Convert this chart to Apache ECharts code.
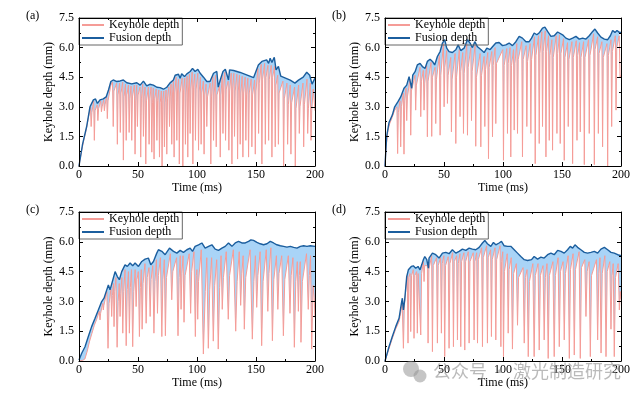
<!DOCTYPE html>
<html><head><meta charset="utf-8">
<script src="https://cdn.jsdelivr.net/npm/echarts@6/dist/echarts.min.js"></script>
<style>html,body{margin:0;padding:0;background:#fff}#c{width:642px;height:399px}</style>
</head><body><div id="c"></div>
<script>
// ---------- data ----------
const panelLabels = ['(a)', '(b)', '(c)', '(d)'];
const seriesNames = ['Keyhole depth', 'Fusion depth'];
const xTickValues = [0, 50, 100, 150, 200];
const yTickValues = [0.0, 1.5, 3.0, 4.5, 6.0, 7.5];

// (a)
const aFusionT = [0,3,6.5,9.3,12.2,14,15.6,17.8,20.6,23,25,27,29,32,34.8,37.6,40.5,44.7,49,51.8,54.6,57.4,60,63,66,68.7,71.6,74.4,75.8,77,80,81.5,84.3,85.7,87,89.4,91.4,94.2,96.2,98.4,100.7,102.7,105.5,108.3,111,114,116.8,118,119.7,122,124,125.3,126.7,127.6,131,136.6,142,148,149.4,152,155,159,160.7,162,163.5,165.5,167,169,171,175,179,183,186,190,193,195.5,197.5,200];
const aFusionV = [0,1.1,2.0,3.0,3.35,3.4,3.17,3.35,3.4,3.5,3.85,4.28,4.36,4.28,4.31,4.36,4.22,4.16,4.22,4.1,4.3,4.06,4.14,4.1,3.99,3.97,3.89,3.99,4.06,4.2,4.36,4.6,4.65,4.45,4.67,4.53,4.67,4.79,4.95,4.79,4.9,4.7,4.5,4.28,4.28,4.7,4.79,4.0,4.36,4.79,4.9,4.85,4.36,4.87,4.84,4.74,4.62,4.48,4.45,5.12,5.3,5.38,5.2,5.46,5.25,5.51,4.87,5.05,4.55,4.45,4.35,4.2,4.35,4.5,4.75,4.6,4.15,4.45];
const aKeyT = [0,2,4,6,8,9.7,10.3,10.9,12.4,13,13.6,15.4,16,16.6,18.4,19,19.6,20.9,21.5,22.1,23.4,24,24.6,27,28.4,29,29.6,31.9,32.5,33.1,34.4,35,35.6,37,37.6,38.2,39.4,40,40.6,41.9,42.5,43.1,44.1,44.7,45.3,46.9,47.5,48.1,48.9,49.5,50.1,51.7,52.3,52.9,54,54.6,55.2,56,56.6,57.2,58.8,59.4,60,61.1,61.7,62.3,63,63.6,64.2,65.4,66,66.6,67.6,68.2,68.8,69.8,70.4,71,71.8,72.4,73,73.8,74.4,75,76.1,76.7,77.3,78,78.6,79.2,80,80.6,81.2,82.3,82.9,83.5,84.4,85,85.6,87.4,88,88.6,89.6,90.2,90.8,91.6,92.2,92.8,93.6,94.2,94.8,95.9,96.5,97.1,98.1,98.7,99.3,100.7,101.3,101.9,102.9,103.5,104.1,105.4,106,106.6,107.7,108.3,108.9,111.1,111.7,112.3,113.4,114,114.6,115.7,116.3,116.9,119.1,119.7,120.3,121.4,122,122.6,123.6,124.2,124.8,126.4,127,127.6,129,129.6,130.2,131.2,131.8,132.4,133.8,134.4,135,136,136.6,137.2,138.3,138.9,139.5,140.8,141.4,142,143.1,143.7,144.3,145.9,146.5,147.1,148.8,149.4,150,151.6,152.2,152.8,154.4,155,155.6,157.3,157.9,158.5,160.1,160.7,161.3,162.9,163.5,164.1,165.7,166.3,166.9,168.4,169,169.6,172.8,173.4,174,176.2,176.8,177.4,179,179.6,180.2,182.7,183.3,183.9,186.1,186.7,187.3,189.8,190.4,191,193.2,193.8,194.4,196,196.6,197.2,198.5,200];
const aKeyV = [0,0.7,1.3,1.8,2.45,3.0,2.0,2.7,3.3,1.3,2.8,3.1,2.3,2.9,3.3,2.75,3.0,3.35,2.8,3.1,3.55,2.4,3.3,4.1,4.25,2.0,3.8,4.2,1.1,3.6,4.2,1.7,3.7,4.25,0.3,3.5,4.15,1.3,3.6,4.1,1.7,3.4,4.05,1.3,3.5,4.1,0.6,3.3,4.1,2.0,3.6,4.0,0.45,3.4,4.15,1.5,3.5,4.0,0.1,3.3,4.0,1.1,3.4,4.0,0.7,3.2,3.95,0.35,3.4,3.9,1.3,3.3,3.85,0.45,3.2,3.8,0.0,3.3,3.8,0.97,3.2,3.85,0.6,3.4,4.0,2.0,3.5,4.15,1.1,3.6,4.3,0.45,3.7,4.5,1.3,3.8,4.4,0.1,3.7,4.45,0.0,3.8,4.45,1.1,3.7,4.55,0.45,3.9,4.65,1.65,3.9,4.75,0.1,4.0,4.65,1.3,3.9,4.7,0.8,3.8,4.5,1.1,3.7,4.3,0.6,3.6,4.15,2.0,3.5,4.2,0.1,3.5,4.55,1.3,3.7,4.6,0.97,3.6,4.05,0.45,3.6,4.6,1.65,3.9,4.75,1.3,3.9,4.3,0.8,3.8,4.7,0.1,3.9,4.7,1.5,3.8,4.65,0.35,3.8,4.6,1.1,3.7,4.55,0.45,3.7,4.5,1.3,3.6,4.45,0.45,3.7,4.4,0.97,3.6,4.35,0.6,3.8,4.95,1.65,4.2,5.15,0.1,4.4,5.2,1.1,4.5,5.1,1.3,4.4,5.1,0.45,4.5,5.05,0.97,4.1,4.6,1.1,3.7,4.3,0.0,3.4,4.2,1.1,3.1,4.1,0.6,3.2,4.0,0.0,2.9,4.1,1.65,3.0,4.2,0.97,3.1,4.4,1.65,2.9,4.2,1.3,2.8,3.9,2.8];

// (b)
const bFusionT = [0,1.4,3.4,6.2,8.2,11,13.3,16.1,18.4,20.4,21.8,22.6,23.5,25.5,27.4,29.7,31.7,34,35.9,38.2,40.2,42.1,44.4,46.7,48.7,50.6,52.3,54.3,57.1,60,62,64.2,67,69.9,72.1,74.1,76.1,78.4,81.2,84,86.3,89.1,91.1,93.9,96.7,99.6,102.4,105.2,108,110.9,113.7,116.5,119.4,122.2,124.2,126.4,128.7,131,133.5,135.5,137.8,140.6,143.4,146.3,147.7,150.5,153.3,156.2,159,161.8,164.6,167.5,170.3,173.1,176,177.9,180.2,183,185.9,188.7,191,192.9,194.9,196.6,198.6,200];
const bFusionV = [0,1.5,2.2,2.58,3.0,3.26,3.5,3.94,4.1,4.53,4.6,3.94,4.6,4.78,5.12,5.2,5.04,4.95,5.3,5.41,5.3,5.12,5.55,5.8,6.23,6.4,5.97,5.8,5.75,5.89,6.14,5.85,5.97,6.4,6.23,6.0,6.3,6.04,5.9,5.75,5.97,5.9,6.04,6.23,6.26,6.1,6.14,6.23,6.1,6.3,6.57,6.48,6.3,6.3,6.48,6.74,6.65,6.77,6.99,7.04,6.82,6.57,6.6,6.79,6.87,6.65,6.48,6.4,6.48,6.57,6.43,6.48,6.43,6.6,6.82,6.94,6.74,6.53,6.43,6.4,6.6,6.87,6.77,6.87,6.77,6.77];
const bKeyT = [0,1,2.5,4,6,8,10.1,10.7,11.3,12.7,13.3,13.9,15.5,16.1,16.7,17.8,18.4,19,21.2,21.8,22.4,25.4,26,26.6,29.7,30.3,30.9,32.5,33.1,33.7,35.3,35.9,36.5,39,39.6,40.2,42.4,43,43.6,46.1,46.7,47.3,49.5,50.1,50.7,52.3,52.9,53.5,55.7,56.3,56.9,59.4,60,60.6,63,63.6,64.2,65.9,66.5,67.1,69.3,69.9,70.5,72.7,73.3,73.9,76.3,76.9,77.5,80.6,81.2,81.8,84,84.6,85.2,87.1,87.7,88.3,90.5,91.1,91.7,93.3,93.9,94.5,99.8,100.4,101,103.2,103.8,104.4,106,106.6,107.2,108.9,109.5,110.1,111.7,112.3,112.9,115.9,116.5,117.1,119.6,120.2,120.8,123,123.6,124.2,126.7,127.3,127.9,130.1,130.7,131.3,132.9,133.5,134.1,135.8,136.4,137,138.6,139.2,139.8,141.4,142,142.6,145.1,145.7,146.3,147.9,148.5,149.1,151.3,151.9,152.5,154.7,155.3,155.9,158.4,159,159.6,162.1,162.7,163.3,164.9,165.5,166.1,168.3,168.9,169.5,172.5,173.1,173.7,176.8,177.4,178,180.2,180.8,181.4,183.8,184.4,185,188.1,188.7,189.3,191.5,192.1,192.7,195.2,195.8,196.4,198.5,199.2,200];
const bKeyV = [0,1.0,1.8,2.15,2.45,2.8,3.0,0.63,2.7,3.3,0.97,3.0,3.7,0.6,3.3,3.95,2.3,3.5,4.4,1.56,3.8,4.6,2.83,4.1,5.0,2.5,4.3,4.85,2.83,4.2,5.1,1.48,4.3,5.25,1.5,4.5,5.0,2.15,4.4,5.6,1.56,4.6,6.2,3.0,5.0,5.85,3.17,4.6,5.5,1.73,4.4,5.7,1.14,4.5,5.9,2.5,4.8,5.75,1.65,4.7,6.2,1.56,5.0,6.0,2.3,4.8,6.1,1.0,4.5,5.7,0.97,4.6,5.55,2.0,4.9,5.75,0.37,5.0,5.8,1.48,5.1,6.0,2.15,5.2,5.9,0.29,5.1,5.95,1.65,5.2,6.0,0.46,5.1,5.9,1.82,5.2,6.2,1.65,5.4,6.3,0.46,5.4,6.1,2.0,5.3,6.2,1.65,5.4,6.55,0.12,5.6,6.6,1.14,5.7,6.8,2.0,5.8,6.85,0.46,5.8,6.6,1.3,5.6,6.4,0.8,5.5,6.6,1.65,5.7,6.65,1.14,5.7,6.45,0.29,5.5,6.25,2.0,5.4,6.3,0.12,5.5,6.35,1.3,5.6,6.25,1.73,5.5,6.3,0.07,5.5,6.4,1.65,5.6,6.7,0.07,5.9,6.55,1.65,5.7,6.3,0.97,5.5,6.2,0.0,5.6,6.4,2.0,5.8,6.6,2.83,6.0,6.6,4.5,4.6];

// (c)
const cFusionT = [0,2.3,5.1,7.9,10.7,13.6,16.4,19.2,21.2,23.5,24.9,26.3,28.3,30.6,32.5,34.2,36.2,39,41,43.3,45.5,47.5,50.4,53.2,56,58.8,60.8,63.1,65.9,67.3,70.2,73,76.7,80.1,82.9,85.7,88.5,91.4,94.2,96.2,98.4,101.3,104.1,106.9,109.8,112.6,115.4,118.2,121.1,123.9,126.7,129.6,132.4,135.2,138,140.9,143.7,145.7,147.9,150.8,153.6,156.4,159.3,162.1,164.9,167.7,170.6,173.4,176.2,179.1,181.9,184.7,187.6,190.4,193.2,196,200];
const cFusionV = [0.05,0.39,0.72,1.23,1.73,2.15,2.57,2.99,3.16,3.58,3.83,3.58,4.0,4.5,4.25,4.09,4.5,4.84,4.76,4.93,4.79,4.93,4.76,5.01,5.13,5.18,4.84,5.01,5.43,5.6,5.52,5.35,5.68,5.52,5.43,5.57,5.47,5.6,5.68,5.52,5.77,5.85,5.94,5.68,5.77,5.85,5.63,5.57,5.68,5.77,5.94,5.77,5.94,6.02,5.94,5.94,6.02,6.1,6.07,5.97,5.9,5.85,5.9,6.02,5.94,5.85,5.8,5.77,5.73,5.77,5.72,5.68,5.77,5.8,5.77,5.8,5.77];
const cKeyT = [0,3,5,7,9,11,13,15,17.2,17.8,18.3,20.1,20.6,21.1,23.6,24.6,25.5,27,27.7,28.3,29.2,29.7,30.3,31.3,32.3,33.2,34.1,34.8,35.4,36.3,37.1,37.9,39,40,40.9,41.9,42.7,43.5,44.5,45.5,46.4,47.6,48.4,49.1,50.3,51.2,52,52.8,53.5,54.3,55.9,56.9,57.8,59.3,60.3,61.1,62.5,63.5,64.4,65.6,66.5,67.3,69,70.2,71.1,72.3,73.2,74.1,77.4,78.6,79.5,82.7,83.9,84.9,85.8,86.5,87.2,88.2,89,89.9,93.4,94.6,95.5,97.4,98.6,99.4,99.9,100.6,101.3,103.6,105.4,107,108.3,109.6,110.8,112.4,113.8,115,116.7,118,119.2,120.4,121.4,122.4,124.8,126.5,127.6,130.8,132.8,134,135.8,137,138,139.1,140.1,141.3,145,146.9,148.2,149.5,150.6,151.6,153.5,154.8,156,158.7,160,161,162.6,163.9,165.1,167.3,168.5,169.5,171.8,173.2,174.4,177.4,178.8,179.8,181.3,182.5,183.7,185,185.9,186.7,187.5,188.1,189.3,192.8,194.3,195.2,196.2,197.2,198.4,199.3,200];
const cKeyV = [0,0.03,0.1,0.5,1.0,1.4,1.8,2.1,2.5,2.07,2.4,2.9,2.57,2.8,3.5,0.64,2.9,3.6,2.24,3.3,3.9,1.73,3.5,4.2,0.69,3.0,3.9,2.24,3.4,4.2,1.4,3.5,4.6,0.77,3.6,4.5,1.4,3.7,4.6,0.72,3.5,4.6,2.74,4.1,4.5,1.23,3.7,4.6,1.6,3.9,4.9,1.9,4.2,4.7,2.24,4.1,4.8,1.4,4.0,5.1,2.4,4.3,5.2,1.23,4.1,5.1,1.27,4.2,5.4,3.08,4.5,5.2,1.27,4.2,5.3,2.6,4.4,5.3,1.95,4.3,5.4,2.4,4.5,5.5,1.23,4.3,4.6,2.1,4.0,5.6,0.35,3.5,5.2,0.64,3.6,5.2,1.0,3.8,5.1,0.6,3.7,5.3,2.6,4.2,5.5,2.1,4.3,5.6,1.5,4.0,5.5,2.8,4.4,5.3,1.6,4.2,5.6,1.1,4.0,5.3,2.7,4.3,5.5,0.77,4.0,5.6,2.5,4.4,5.7,1.02,4.1,5.3,2.6,4.4,5.3,1.27,4.1,5.3,2.4,4.3,5.2,0.69,4.0,5.0,2.5,4.3,5.0,0.94,4.0,5.4,2.6,4.3,5.3,0.6,3.8,3.2,2.2];

// (d)
const dFusionT = [0,3.4,6.2,9.1,11.9,13.9,14.7,15.6,16.7,18.4,19.8,21.2,22.3,24,26,28,29.7,31.1,32.5,33.7,35.4,36.8,37.3,40.2,43,45.8,48.7,51.5,54.3,57.1,60,62.8,65.6,68.5,71.3,74.1,76.9,79.8,82.6,84.6,86.8,89.7,91.9,93.9,96.7,98.7,101,103.8,106.6,109.5,112.3,115.1,118,120.8,124.2,126.4,129.3,132.1,134.9,137.8,140.6,143.4,146.3,149.1,151.9,154.7,157,159,161,163.2,166,168.9,171.7,174.5,177.4,180.2,183,185.9,188.7,191.5,194.3,197.2,200];
const dFusionV = [0,0.72,1.23,1.73,2.15,2.9,3.16,2.57,3.08,4.25,4.59,4.5,4.76,4.79,4.67,4.76,4.59,4.84,5.1,5.26,5.1,4.67,5.18,5.43,5.35,5.18,5.43,5.47,5.4,5.6,5.43,5.52,5.63,5.57,5.68,5.63,5.6,5.72,5.94,6.07,5.9,5.77,5.97,5.85,5.94,6.02,5.8,5.77,5.77,5.6,5.43,5.26,5.1,5.06,5.1,5.26,5.13,5.23,5.18,5.35,5.43,5.35,5.57,5.52,5.43,5.6,5.77,5.68,5.85,5.72,5.6,5.47,5.43,5.47,5.52,5.43,5.63,5.72,5.6,5.47,5.43,5.35,5.3];
const dKeyT = [0,3,6,9,12,13.5,14.5,14.8,15.6,16.4,17.5,18.4,18.9,19.5,20.2,21.2,21.8,22.5,24,24.6,25.3,26.8,27.4,28.1,29.7,30.3,31,32.6,33.1,33.6,35.9,36.5,37.2,39.5,40.2,40.9,43.7,44.4,45.1,47.1,47.8,48.5,49.9,50.6,51.3,53.6,54.3,55,57.3,58,58.7,60.7,61.4,62.1,63.5,64.2,64.9,66.9,67.6,68.3,70.6,71.3,72,74.8,75.5,76.2,77.7,78.4,79.1,81.9,82.6,83.3,86.1,86.8,87.5,89.5,90.2,90.9,93.2,93.9,94.6,97.5,98.2,98.8,99.8,100.4,101.2,103.6,104.4,105.2,107,108,109,111.3,112.3,113.2,117,118,119,120.4,121.4,122.4,125.3,126.4,127.4,129.7,130.7,131.7,133.9,134.9,135.9,137.3,138.3,139.3,142.3,143.4,144.4,146.7,147.7,148.7,150.9,151.9,152.9,155.2,156.2,157.2,159.4,160.4,161.4,164.5,165.5,166.5,169.3,170.3,171.3,173,174,175,179.2,180.2,181.2,182.2,183.1,184.1,186.3,187.3,188.3,190.5,191.5,192.4,193.4,194.3,195.3,197.6,198.6,199.4,200];
const dKeyV = [0,0.55,1.1,1.6,2.0,2.5,3.0,3.0,0.64,2.8,3.5,4.1,4.3,0.9,4.2,4.4,1.48,4.3,4.6,1.14,4.3,4.5,1.4,4.4,4.4,1.31,4.4,5.0,4.0,4.8,4.8,0.9,4.6,5.3,0.47,4.8,5.2,0.9,4.8,5.2,1.4,4.9,5.3,0.22,4.8,5.25,0.64,4.9,5.45,0.72,5.0,5.3,1.06,4.9,5.4,0.72,5.0,5.45,0.55,5.0,5.5,0.9,5.0,5.45,1.06,5.0,5.45,0.9,5.1,5.7,0.72,5.2,5.8,0.9,5.2,5.6,1.23,5.1,5.7,1.06,5.1,5.8,0.72,5.0,5.5,0.22,4.5,5.4,1.4,4.6,5.2,0.6,4.4,4.9,1.8,4.2,4.7,0.9,4.2,4.6,0.22,4.0,4.9,0.22,4.3,4.9,0.55,4.3,4.8,1.06,4.2,4.9,0.13,4.3,5.0,0.22,4.3,5.2,0.72,4.5,5.0,1.06,4.4,5.3,0.13,4.6,5.4,0.3,4.6,5.5,0.13,4.7,5.1,2.24,4.5,5.0,0.22,4.3,5.1,1.06,4.4,5.2,0.4,4.4,5.3,0.22,4.5,5.0,1.6,4.3,4.9,0.22,4.2,4.9,2.57,3.5,3.1];

// ---------- styling / layout ----------
const FONT = "'Liberation Serif','Times New Roman',serif";
const PINK = '#F59C97';
const BLUE = '#1B5E9E';
const FILL = '#A9D4F7';
const grids = [
  {left: 79, top: 18, width: 236, height: 148},
  {left: 385, top: 18, width: 236, height: 148},
  {left: 79, top: 212, width: 236, height: 149},
  {left: 385, top: 212, width: 236, height: 149}
];
const labelPos = [[26, 10], [332, 10], [26, 204], [332, 204]];
const panelData = [
  [aFusionT, aFusionV, aKeyT, aKeyV],
  [bFusionT, bFusionV, bKeyT, bKeyV],
  [cFusionT, cFusionV, cKeyT, cKeyV],
  [dFusionT, dFusionV, dKeyT, dKeyV]
];

function pairs(t, v, tag) {
  if (t.length !== v.length) throw new Error('length mismatch ' + tag + ': ' + t.length + ' vs ' + v.length);
  return t.map((x, i) => [x, v[i]]);
}

const txt = {color: '#000', fontFamily: FONT, fontSize: 12};
const xAxes = [], yAxes = [], series = [], legends = [], titles = [];
grids.forEach((g, i) => {
  const tick = {show: true, inside: true, length: 4, lineStyle: {color: '#000', width: 1}};
  const minor = {show: true, splitNumber: 2, length: 2, lineStyle: {color: '#000', width: 1}};
  const line = {show: true, onZero: false, lineStyle: {color: '#000', width: 1}};
  xAxes.push({
    type: 'value', gridIndex: i, position: 'bottom', min: xTickValues[0], max: xTickValues[xTickValues.length - 1],
    interval: xTickValues[1] - xTickValues[0], z: 10,
    axisLine: line, axisTick: tick, minorTick: minor, splitLine: {show: false},
    axisLabel: Object.assign({margin: 3}, txt),
    name: 'Time (ms)', nameLocation: 'middle', nameGap: 16, nameTextStyle: txt
  });
  xAxes.push({
    type: 'value', gridIndex: i, position: 'top', min: xTickValues[0], max: xTickValues[xTickValues.length - 1],
    interval: xTickValues[1] - xTickValues[0], z: 10,
    axisLine: line, axisTick: tick, minorTick: minor, splitLine: {show: false}, axisLabel: {show: false}
  });
  yAxes.push({
    type: 'value', gridIndex: i, position: 'left', min: yTickValues[0], max: yTickValues[yTickValues.length - 1],
    interval: yTickValues[1] - yTickValues[0], z: 10,
    axisLine: line, axisTick: tick, minorTick: minor, splitLine: {show: false},
    axisLabel: Object.assign({margin: 5, formatter: v => v.toFixed(1)}, txt),
    name: 'Keyhole depth (mm)', nameLocation: 'middle', nameGap: 22, nameTextStyle: txt
  });
  yAxes.push({
    type: 'value', gridIndex: i, position: 'right', min: yTickValues[0], max: yTickValues[yTickValues.length - 1],
    interval: yTickValues[1] - yTickValues[0], z: 10,
    axisLine: line, axisTick: tick, minorTick: minor, splitLine: {show: false}, axisLabel: {show: false}
  });
  const [fT, fV, kT, kV] = panelData[i];
  const fData = pairs(fT, fV, 'fusion ' + i);
  const kData = pairs(kT, kV, 'keyhole ' + i);
  series.push({
    type: 'line', name: 'fusion-fill-' + i, xAxisIndex: 2 * i, yAxisIndex: 2 * i, data: fData,
    symbol: 'none', silent: true, z: 1,
    lineStyle: {width: 0, opacity: 0}, areaStyle: {color: FILL, opacity: 1}
  });
  series.push({
    type: 'line', name: seriesNames[0], xAxisIndex: 2 * i, yAxisIndex: 2 * i, data: kData,
    symbol: 'none', z: 2, itemStyle: {color: PINK},
    lineStyle: {width: 1, color: PINK}, areaStyle: {color: '#ffffff', opacity: 1}
  });
  series.push({
    type: 'line', name: seriesNames[1], xAxisIndex: 2 * i, yAxisIndex: 2 * i, data: fData,
    symbol: 'none', z: 3, itemStyle: {color: BLUE},
    lineStyle: {width: 1.4, color: BLUE}
  });
  legends.push({
    left: g.left, top: g.top, orient: 'vertical', selectedMode: false,
    data: [{name: seriesNames[0], icon: 'rect'}, {name: seriesNames[1], icon: 'rect'}],
    itemWidth: 22, itemHeight: 2, itemGap: 1, padding: [1, 3, 1, 3],
    borderColor: '#666', borderWidth: 1, textStyle: txt
  });
  titles.push({
    text: panelLabels[i], left: labelPos[i][0], top: labelPos[i][1], padding: 0,
    textStyle: {color: '#000', fontFamily: FONT, fontSize: 12, fontWeight: 'normal'}
  });
});

const chart = echarts.init(document.getElementById('c'), null, {renderer: 'canvas'});
chart.setOption({
  animation: false,
  backgroundColor: '#fff',
  title: titles,
  grid: grids,
  xAxis: xAxes,
  yAxis: yAxes,
  legend: legends,
  series: series,
  graphic: [
    {type: 'circle', shape: {cx: 411, cy: 369, r: 8}, style: {fill: 'rgba(150,150,150,0.55)'}, z: 100},
    {type: 'circle', shape: {cx: 420, cy: 376, r: 6.5}, style: {fill: 'rgba(150,150,150,0.55)'}, z: 100},
    {type: 'text', left: 433, top: 362, z: 100,
     style: {text: '公众号 · 激光制造研究', fill: 'rgba(140,140,140,0.6)', font: "18px 'Noto Sans CJK SC'"}}
  ]
});
</script>
</body></html>
